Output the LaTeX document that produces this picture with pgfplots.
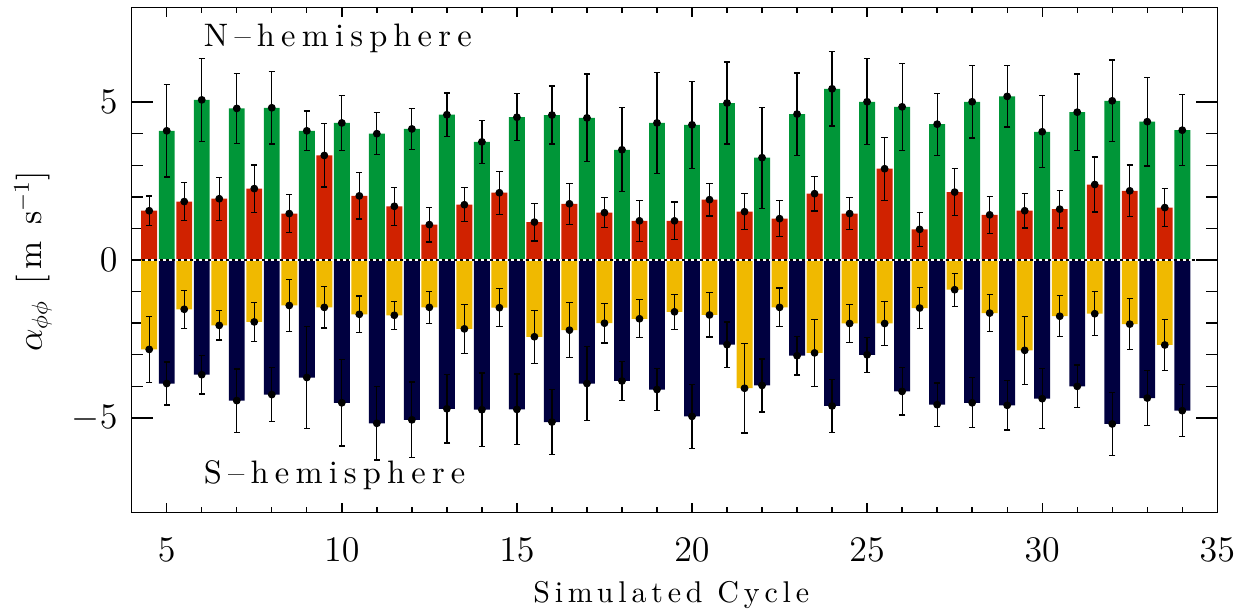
\documentclass[border=0pt]{standalone}
\usepackage{fontspec}
\usepackage{pgfplots}
\usepackage{pgfplotstable}
\pgfplotsset{compat=1.18}

\newfontfamily\hemifont{lmroman10-regular.otf}[LetterSpace=19]
\newfontfamily\labfont{lmroman10-regular.otf}[LetterSpace=16]

\definecolor{nred}{HTML}{D02200}
\definecolor{ngreen}{HTML}{009638}
\definecolor{syellow}{HTML}{F0B900}
\definecolor{snavy}{HTML}{000040}

% x  value  error
\pgfplotstableread{
x y e
4.5 1.56 0.47
5.5 1.85 0.60
6.5 1.94 0.68
7.5 2.26 0.75
8.5 1.47 0.60
9.5 3.31 1.00
10.5 2.03 0.73
11.5 1.70 0.60
12.5 1.12 0.55
13.5 1.75 0.54
14.5 2.13 0.68
15.5 1.20 0.60
16.5 1.78 0.65
17.5 1.50 0.47
18.5 1.24 0.65
19.5 1.24 0.60
20.5 1.91 0.52
21.5 1.53 0.57
22.5 1.31 0.57
23.5 2.10 0.55
24.5 1.47 0.50
25.5 2.89 1.00
26.5 0.97 0.54
27.5 2.15 0.74
28.5 1.43 0.58
29.5 1.56 0.55
30.5 1.61 0.60
31.5 2.39 0.87
32.5 2.19 0.82
33.5 1.66 0.60
}\northred

\pgfplotstableread{
x y e
5 4.09 1.46
6 5.07 1.32
7 4.80 1.10
8 4.82 1.15
9 4.09 0.63
10 4.34 0.87
11 4.00 0.66
12 4.15 0.64
13 4.60 0.69
14 3.74 0.68
15 4.52 0.74
16 4.59 0.92
17 4.50 1.39
18 3.49 1.33
19 4.34 1.60
20 4.28 1.38
21 4.97 1.30
22 3.24 1.60
23 4.62 1.30
24 5.42 1.18
25 5.01 1.36
26 4.85 1.38
27 4.30 0.98
28 5.01 1.15
29 5.18 0.97
30 4.06 1.14
31 4.68 1.21
32 5.04 1.29
33 4.38 1.40
34 4.11 1.12
}\northgreen

\pgfplotstableread{
x y e
4.5 -2.83 1.04
5.5 -1.56 0.60
6.5 -2.07 0.46
7.5 -1.96 0.61
8.5 -1.44 0.83
9.5 -1.50 0.65
10.5 -1.72 0.58
11.5 -1.75 0.44
12.5 -1.50 0.50
13.5 -2.18 0.77
14.5 -1.51 0.60
15.5 -2.43 0.84
16.5 -2.22 0.87
17.5 -2.00 0.63
18.5 -1.86 0.60
19.5 -1.64 0.56
20.5 -1.74 0.70
21.5 -4.06 1.42
22.5 -1.50 0.61
23.5 -2.94 1.06
24.5 -2.01 0.60
25.5 -2.01 0.70
26.5 -1.52 0.64
27.5 -0.94 0.52
28.5 -1.68 0.59
29.5 -2.86 1.08
30.5 -1.78 0.65
31.5 -1.70 0.70
32.5 -2.03 0.80
33.5 -2.69 0.81
}\southyellow

\pgfplotstableread{
x y e
5 -3.91 0.68
6 -3.63 0.61
7 -4.45 1.00
8 -4.26 0.85
9 -3.72 1.62
10 -4.52 1.37
11 -5.17 1.16
12 -5.06 1.20
13 -4.71 1.08
14 -4.74 1.16
15 -4.73 1.12
16 -5.13 1.02
17 -3.91 1.18
18 -3.83 0.61
19 -4.10 0.67
20 -4.95 1.01
21 -2.68 0.72
22 -3.97 0.84
23 -3.03 0.61
24 -4.62 0.83
25 -3.00 0.55
26 -4.16 0.75
27 -4.58 0.69
28 -4.52 0.79
29 -4.60 0.78
30 -4.39 0.95
31 -4.00 0.68
32 -5.19 1.00
33 -4.37 0.88
34 -4.77 0.82
}\southnavy

\begin{document}
\begin{tikzpicture}
\useasboundingbox (-52.68pt,-38.52pt) rectangle (445.72pt,205.08pt);
\begin{axis}[
    at={(0,0)}, anchor=south west,
    scale only axis,
    width=434.24pt, height=202.16pt,
    xmin=4, xmax=35, ymin=-8, ymax=8,
    xtick={5,10,...,35}, ytick={-5,0,5},
    minor x tick num=4, minor y tick num=4,
    tick align=inside,
    axis line style={line width=0.55pt},
    every tick/.style={black, line width=0.55pt},
    major tick length=4pt, minor tick length=2.2pt,
    ytick style={/pgfplots/major tick length=8.6pt, /pgfplots/minor tick length=4.4pt},
    tick label style={font=\fontsize{14.4}{17}\selectfont},
    xticklabel style={anchor=base, yshift=-19.6pt},
    yticklabel style={anchor=east, inner sep=0pt, xshift=-5.5pt},
    xlabel={\labfont\fontsize{12}{14}\selectfont Simulated Cycle},
    xlabel style={at={(axis description cs:0.497,0)}, anchor=base, yshift=-36.1pt},
    ylabel={\fontsize{13.5}{15}\selectfont $\alpha_{\phi\phi}$\ \,{\labfont[m s$^{-1}$]}},
    every axis y label/.style={at={(axis description cs:-0.0909,0.497)}, rotate=90, anchor=center},
    error bars/error bar style={line width=0.5pt, black},
    error bars/error mark options={rotate=90, mark size=1.25pt, line width=0.5pt, black},
]
\addplot[ybar, bar width=0.455, bar shift=0pt, fill=nred, draw=none] table[x=x, y=y] {\northred};
\addplot[ybar, bar width=0.455, bar shift=0pt, fill=ngreen, draw=none] table[x=x, y=y] {\northgreen};
\addplot[ybar, bar width=0.455, bar shift=0pt, fill=syellow, draw=none] table[x=x, y=y] {\southyellow};
\addplot[ybar, bar width=0.455, bar shift=0pt, fill=snavy, draw=none] table[x=x, y=y] {\southnavy};

\addplot[white, line width=0.5pt] coordinates {(4.28,0) (34.4,0)};
\addplot[black, line width=0.5pt, dash pattern=on 1.2pt off 1.2pt] coordinates {(4.28,0) (34.4,0)};

\addplot[only marks, mark=*, mark size=1.35pt, black,
    error bars/.cd, y dir=both, y explicit]
    table[x=x, y=y, y error=e] {\northred};
\addplot[only marks, mark=*, mark size=1.35pt, black,
    error bars/.cd, y dir=both, y explicit]
    table[x=x, y=y, y error=e] {\northgreen};
\addplot[only marks, mark=*, mark size=1.35pt, black,
    error bars/.cd, y dir=both, y explicit]
    table[x=x, y=y, y error=e] {\southyellow};
\addplot[only marks, mark=*, mark size=1.35pt, black,
    error bars/.cd, y dir=both, y explicit]
    table[x=x, y=y, y error=e] {\southnavy};

\node[anchor=base west, inner sep=0pt, font=\hemifont\fontsize{13}{15}\selectfont]
    at (axis cs:6.05,6.76) {N–hemisphere};
\node[anchor=base west, inner sep=0pt, font=\hemifont\fontsize{13}{15}\selectfont]
    at (axis cs:6.05,-7.06) {S–hemisphere};
\end{axis}
\end{tikzpicture}
\end{document}
